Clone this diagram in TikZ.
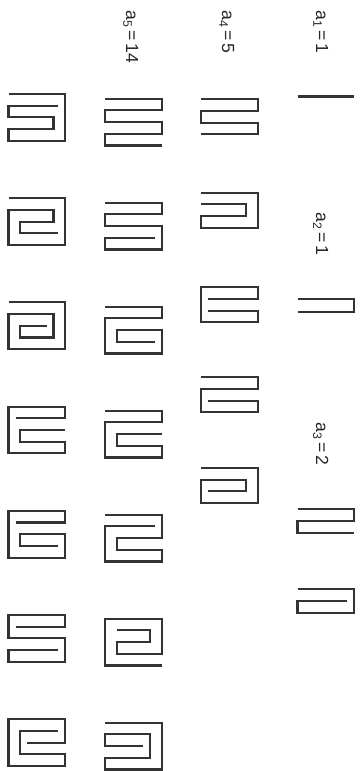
\documentclass[tikz,border=0pt]{standalone}
\usepackage{fontspec}
\newfontfamily\countfont{Liberation Sans}

\begin{document}
\begin{tikzpicture}[
        x=0.03cm, y=-0.03cm,
        strip/.style={draw=black!80, line width=1.8pt, line join=miter},
        folding/.style 2 args={shift={(#1,#2)}, x=0.351cm, y=-0.351cm},
        count/.style={rotate=-90, anchor=base west, inner sep=0pt, text=black!85, font=\countfont\fontsize{15}{17}\selectfont}
    ]
        \useasboundingbox (0,0) rectangle (361,771);

        % Labels
        \node[count] (a1) at (316,10) {a\textsubscript{1}\,=\,1};
        \node[count] (a2) at (316,212) {a\textsubscript{2}\,=\,1};
        \node[count] (a3) at (316,422) {a\textsubscript{3}\,=\,2};
        \node[count] (a4) at (222,10) {a\textsubscript{4}\,=\,5};
        \node[count] (a5) at (126,10) {a\textsubscript{5}\,=\,14};

        % Foldings of 1, 2 and 3 stamps
        \draw[strip, folding={297.5}{96.5}] (0,0) -- (4.85,0);
        \draw[strip, folding={297.5}{299}] (0,0) -- (4.85,0) -- (4.85,1.1) -- (0,1.1);
        \draw[strip, folding={297.5}{509.3}] (0,0) -- (4.85,0) -- (4.85,1) -- (0,1) -- (0,2) -- (4.85,2);
        \draw[strip, folding={297.5}{589.3}] (0,0) -- (4.85,0) -- (4.85,2) -- (0,2) -- (0,1) -- (4.25,1);

        % Foldings of 4 stamps
        \draw[strip, folding={201.3}{99.3}] (0,0) -- (4.85,0) -- (4.85,1) -- (0,1) -- (0,2) -- (4.85,2) -- (4.85,3) -- (0,3);
        \draw[strip, folding={201.3}{192.7}] (0,0) -- (4.85,0) -- (4.85,3) -- (0,3) -- (0,2) -- (3.85,2) -- (3.85,1) -- (0,1);
        \draw[strip, folding={201.3}{287.3}] (0.6,1) -- (4.85,1) -- (4.85,0) -- (0,0) -- (0,3) -- (4.85,3) -- (4.85,2) -- (0.6,2);
        \draw[strip, folding={201.3}{377.3}] (0,0) -- (4.85,0) -- (4.85,1) -- (0,1) -- (0,3) -- (4.85,3) -- (4.85,2) -- (0.6,2);
        \draw[strip, folding={201.3}{468}] (0,0) -- (4.85,0) -- (4.85,3) -- (0,3) -- (0,1) -- (3.85,1) -- (3.85,2) -- (0.6,2);

        % Foldings of 5 stamps, second row
        \draw[strip, folding={105}{98.7}] (0,0) -- (4.85,0) -- (4.85,1) -- (0,1) -- (0,2) -- (4.85,2) -- (4.85,3) -- (0,3) -- (0,4) -- (4.85,4);
        \draw[strip, folding={105}{202.7}] (0,0) -- (4.85,0) -- (4.85,1) -- (0,1) -- (0,2) -- (4.85,2) -- (4.85,4) -- (0,4) -- (0,3) -- (4.25,3);
        \draw[strip, folding={105}{306.7}] (0,0) -- (4.85,0) -- (4.85,1) -- (0,1) -- (0,4) -- (4.85,4) -- (4.85,2) -- (1,2) -- (1,3) -- (4.25,3);
        \draw[strip, folding={105}{410.7}] (0,0) -- (4.85,0) -- (4.85,1) -- (0,1) -- (0,4) -- (4.85,4) -- (4.85,3) -- (1,3) -- (1,2) -- (4.85,2);
        \draw[strip, folding={105}{514.7}] (0,0) -- (4.85,0) -- (4.85,2) -- (1,2) -- (1,3) -- (4.85,3) -- (4.85,4) -- (0,4) -- (0,1) -- (4.25,1);
        \draw[strip, folding={105}{618.7}] (4.85,4) -- (0,4) -- (0,0) -- (4.85,0) -- (4.85,3) -- (1,3) -- (1,2) -- (3.85,2) -- (3.85,1) -- (1,1);
        \draw[strip, folding={105}{722.7}] (0,0) -- (4.85,0) -- (4.85,4) -- (0,4) -- (0,3) -- (3.85,3) -- (3.85,1) -- (0,1) -- (0,2) -- (3.25,2);

        % Foldings of 5 stamps, first row
        \draw[strip, folding={8.5}{94}] (0,0) -- (4.85,0) -- (4.85,4) -- (0,4) -- (0,3) -- (3.85,3) -- (3.85,2) -- (0,2) -- (0,1) -- (4.25,1);
        \draw[strip, folding={8.5}{198.2}] (0,0) -- (4.85,0) -- (4.85,4) -- (0,4) -- (0,1) -- (3.85,1) -- (3.85,2) -- (1,2) -- (1,3) -- (4.25,3);
        \draw[strip, folding={8.5}{302.4}] (0,0) -- (4.85,0) -- (4.85,4) -- (0,4) -- (0,1) -- (3.85,1) -- (3.85,3) -- (1,3) -- (1,2) -- (3.25,2);
        \draw[strip, folding={8.5}{406.6}] (0.6,1) -- (4.85,1) -- (4.85,0) -- (0,0) -- (0,4) -- (4.85,4) -- (4.85,3) -- (1,3) -- (1,2) -- (4.85,2);
        \draw[strip, folding={8.5}{510.8}] (0.6,1) -- (4.85,1) -- (4.85,0) -- (0,0) -- (0,4) -- (4.85,4) -- (4.85,2) -- (1,2) -- (1,3) -- (4.25,3);
        \draw[strip, folding={8.5}{615}] (0.6,1) -- (4.85,1) -- (4.85,0) -- (0,0) -- (0,2) -- (4.85,2) -- (4.85,4) -- (0,4) -- (0,3) -- (4.25,3);
        \draw[strip, folding={8.5}{719.2}] (1.6,2) -- (4.85,2) -- (4.85,0) -- (0,0) -- (0,4) -- (4.85,4) -- (4.85,3) -- (1,3) -- (1,1) -- (4.25,1);

    \end{tikzpicture}
\end{document}
